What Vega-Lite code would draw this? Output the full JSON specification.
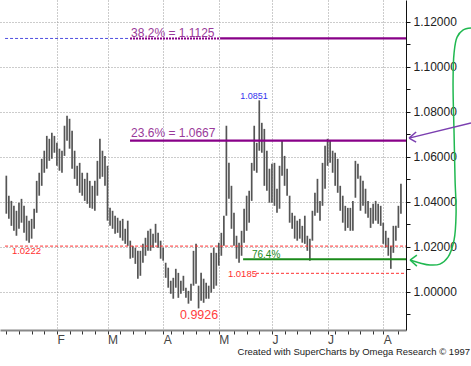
{
  "$schema": "https://vega.github.io/schema/vega-lite/v6.json",
  "width": 406,
  "height": 330,
  "autosize": "none",
  "padding": {"left": 0, "top": 0, "right": 65, "bottom": 36},
  "background": "white",
  "config": {"view": {"stroke": null}, "font": "Liberation Sans"},
  "title": {"text": "Created with SuperCharts by Omega Research © 1997", "orient": "bottom", "anchor": "end", "frame": "group", "dx": 64, "offset": 2, "fontSize": 9.5, "fontWeight": "normal", "color": "#222", "font": "Liberation Sans"},
  "resolve": {"axis": {"x": "independent", "y": "independent"}},
  "datasets": {
    "bars": [
      {"i":0,"h":1.0516,"l":1.0347},{"i":1,"h":1.0427,"l":1.0325},{"i":2,"h":1.0404,"l":1.0293},{"i":3,"h":1.0382,"l":1.0271},{"i":4,"h":1.0360,"l":1.0249},
      {"i":5,"h":1.0396,"l":1.0280},{"i":6,"h":1.0413,"l":1.0307},{"i":7,"h":1.0382,"l":1.0262},{"i":8,"h":1.0338,"l":1.0227},{"i":9,"h":1.0316,"l":1.0218},
      {"i":10,"h":1.0324,"l":1.0236},{"i":11,"h":1.0369,"l":1.0280},{"i":12,"h":1.0493,"l":1.0351},{"i":13,"h":1.0529,"l":1.0427},{"i":14,"h":1.0591,"l":1.0471},
      {"i":15,"h":1.0627,"l":1.0529},{"i":16,"h":1.0693,"l":1.0547},{"i":17,"h":1.0680,"l":1.0582},{"i":18,"h":1.0707,"l":1.0591},{"i":19,"h":1.0693,"l":1.0618},
      {"i":20,"h":1.0662,"l":1.0560},{"i":21,"h":1.0636,"l":1.0538},{"i":22,"h":1.0627,"l":1.0529},{"i":23,"h":1.0738,"l":1.0604},{"i":24,"h":1.0782,"l":1.0671},
      {"i":25,"h":1.0769,"l":1.0636},{"i":26,"h":1.0716,"l":1.0547},{"i":27,"h":1.0627,"l":1.0502},{"i":28,"h":1.0560,"l":1.0471},{"i":29,"h":1.0573,"l":1.0440},
      {"i":30,"h":1.0529,"l":1.0427},{"i":31,"h":1.0502,"l":1.0404},{"i":32,"h":1.0529,"l":1.0391},{"i":33,"h":1.0493,"l":1.0373},{"i":34,"h":1.0471,"l":1.0369},
      {"i":35,"h":1.0493,"l":1.0360},{"i":36,"h":1.0582,"l":1.0427},{"i":37,"h":1.0680,"l":1.0502},{"i":38,"h":1.0627,"l":1.0511},{"i":39,"h":1.0604,"l":1.0471},
      {"i":40,"h":1.0560,"l":1.0316},{"i":41,"h":1.0373,"l":1.0293},{"i":42,"h":1.0360,"l":1.0280},{"i":43,"h":1.0338,"l":1.0258},{"i":44,"h":1.0329,"l":1.0262},
      {"i":45,"h":1.0316,"l":1.0240},{"i":46,"h":1.0324,"l":1.0227},{"i":47,"h":1.0280,"l":1.0213},{"i":48,"h":1.0316,"l":1.0204},{"i":49,"h":1.0227,"l":1.0147},
      {"i":50,"h":1.0204,"l":1.0151},{"i":51,"h":1.0196,"l":1.0124},{"i":52,"h":1.0182,"l":1.0058},{"i":53,"h":1.0182,"l":1.0071},{"i":54,"h":1.0213,"l":1.0129},
      {"i":55,"h":1.0240,"l":1.0160},{"i":56,"h":1.0271,"l":1.0182},{"i":57,"h":1.0280,"l":1.0182},{"i":58,"h":1.0258,"l":1.0196},{"i":59,"h":1.0302,"l":1.0218},
      {"i":60,"h":1.0262,"l":1.0196},{"i":61,"h":1.0227,"l":1.0147},{"i":62,"h":1.0196,"l":1.0138},{"i":63,"h":1.0129,"l":1.0062},{"i":64,"h":1.0107,"l":1.0018},
      {"i":65,"h":1.0049,"l":0.9991},{"i":66,"h":1.0062,"l":0.9969},{"i":67,"h":1.0102,"l":1.0018},{"i":68,"h":1.0084,"l":0.9973},{"i":69,"h":1.0049,"l":0.9991},
      {"i":70,"h":1.0071,"l":1.0004},{"i":71,"h":1.0018,"l":0.9973},{"i":72,"h":1.0004,"l":0.9947},{"i":73,"h":1.0036,"l":0.9960},{"i":74,"h":1.0182,"l":1.0027},
      {"i":75,"h":1.0213,"l":1.0036},{"i":76,"h":1.0027,"l":0.9926},{"i":77,"h":1.0084,"l":0.9960},{"i":78,"h":1.0058,"l":0.9951},{"i":79,"h":1.0040,"l":0.9969},
      {"i":80,"h":1.0027,"l":0.9969},{"i":81,"h":1.0173,"l":0.9996},{"i":82,"h":1.0196,"l":1.0013},{"i":83,"h":1.0173,"l":1.0027},{"i":84,"h":1.0218,"l":1.0116},
      {"i":85,"h":1.0262,"l":1.0160},{"i":86,"h":1.0338,"l":1.0204},{"i":87,"h":1.0738,"l":1.0338},{"i":88,"h":1.0573,"l":1.0413},{"i":89,"h":1.0471,"l":1.0280},
      {"i":90,"h":1.0351,"l":1.0204},{"i":91,"h":1.0249,"l":1.0147},{"i":92,"h":1.0218,"l":1.0129},{"i":93,"h":1.0271,"l":1.0160},{"i":94,"h":1.0369,"l":1.0218},
      {"i":95,"h":1.0427,"l":1.0271},{"i":96,"h":1.0449,"l":1.0307},{"i":97,"h":1.0573,"l":1.0404},{"i":98,"h":1.0738,"l":1.0538},{"i":99,"h":1.0662,"l":1.0529},
      {"i":100,"h":1.0851,"l":1.0627},{"i":101,"h":1.0751,"l":1.0618},{"i":102,"h":1.0724,"l":1.0471},{"i":103,"h":1.0627,"l":1.0449},{"i":104,"h":1.0547,"l":1.0396},
      {"i":105,"h":1.0569,"l":1.0396},{"i":106,"h":1.0573,"l":1.0382},{"i":107,"h":1.0458,"l":1.0351},{"i":108,"h":1.0560,"l":1.0369},{"i":109,"h":1.0671,"l":1.0516},
      {"i":110,"h":1.0604,"l":1.0471},{"i":111,"h":1.0547,"l":1.0427},{"i":112,"h":1.0427,"l":1.0307},{"i":113,"h":1.0351,"l":1.0280},{"i":114,"h":1.0338,"l":1.0236},
      {"i":115,"h":1.0316,"l":1.0227},{"i":116,"h":1.0324,"l":1.0236},{"i":117,"h":1.0293,"l":1.0218},{"i":118,"h":1.0338,"l":1.0213},{"i":119,"h":1.0249,"l":1.0182},
      {"i":120,"h":1.0236,"l":1.0138},{"i":121,"h":1.0360,"l":1.0227},{"i":122,"h":1.0440,"l":1.0338},{"i":123,"h":1.0502,"l":1.0351},{"i":124,"h":1.0404,"l":1.0316},
      {"i":125,"h":1.0573,"l":1.0382},{"i":126,"h":1.0649,"l":1.0458},{"i":127,"h":1.0680,"l":1.0560},{"i":128,"h":1.0671,"l":1.0573},{"i":129,"h":1.0627,"l":1.0529},
      {"i":130,"h":1.0618,"l":1.0471},{"i":131,"h":1.0591,"l":1.0440},{"i":132,"h":1.0471,"l":1.0360},{"i":133,"h":1.0427,"l":1.0307},{"i":134,"h":1.0382,"l":1.0271},
      {"i":135,"h":1.0373,"l":1.0284},{"i":136,"h":1.0373,"l":1.0271},{"i":137,"h":1.0404,"l":1.0271},{"i":138,"h":1.0582,"l":1.0418},{"i":139,"h":1.0569,"l":1.0502},
      {"i":140,"h":1.0516,"l":1.0360},{"i":141,"h":1.0493,"l":1.0382},{"i":142,"h":1.0458,"l":1.0347},{"i":143,"h":1.0404,"l":1.0329},{"i":144,"h":1.0373,"l":1.0284},
      {"i":145,"h":1.0391,"l":1.0302},{"i":146,"h":1.0404,"l":1.0316},{"i":147,"h":1.0391,"l":1.0302},{"i":148,"h":1.0382,"l":1.0293},{"i":149,"h":1.0307,"l":1.0213},
      {"i":150,"h":1.0271,"l":1.0196},{"i":151,"h":1.0240,"l":1.0160},{"i":152,"h":1.0204,"l":1.0102},{"i":153,"h":1.0293,"l":1.0173},{"i":154,"h":1.0293,"l":1.0227},
      {"i":155,"h":1.0382,"l":1.0284},{"i":156,"h":1.0480,"l":1.0347}
    ],
    "hl": [
      {"id":"f382left","a":-0.5,"b":48.9,"v":1.1126},
      {"id":"f382dash","a":48.9,"b":84.5,"v":1.1126},
      {"id":"f382","a":84.5,"b":158,"v":1.1126},
      {"id":"f236","a":48.9,"b":158,"v":1.0672},
      {"id":"red1","a":-0.5,"b":158,"v":1.0203},
      {"id":"red2","a":98.7,"b":158,"v":1.0082},
      {"id":"green","a":93.6,"b":158,"v":1.0144}
    ],
    "tx": [
      {"id":"p","t":"38.2% = 1.1125","x":49.3,"y":1.1134},
      {"id":"p","t":"23.6% = 1.0667","x":49.3,"y":1.0688},
      {"id":"b","t":"1.0851","x":97.9,"y":1.0855},
      {"id":"rs","t":"1.0222","x":2.2,"y":1.0168},
      {"id":"rs","t":"1.0185","x":87.6,"y":1.0065},
      {"id":"g","t":"76.4%","x":97.1,"y":1.0148},
      {"id":"rl","t":"0.9926","x":76.2,"y":0.9879}
    ],
    "cv": [
      {"id":"g","k":0,"x":183.7,"y":1.1172},
      {"id":"g","k":1,"x":180.5,"y":1.1163},
      {"id":"g","k":2,"x":178.2,"y":1.1132},
      {"id":"g","k":3,"x":177.0,"y":1.1061},
      {"id":"g","k":4,"x":176.6,"y":1.0928},
      {"id":"g","k":5,"x":177.0,"y":1.0705},
      {"id":"g","k":6,"x":177.4,"y":1.0496},
      {"id":"g","k":7,"x":177.8,"y":1.0350},
      {"id":"g","k":8,"x":177.0,"y":1.0230},
      {"id":"g","k":9,"x":174.6,"y":1.0154},
      {"id":"g","k":10,"x":171.4,"y":1.0123},
      {"id":"g","k":11,"x":167.5,"y":1.0119},
      {"id":"g","k":12,"x":163.5,"y":1.0128},
      {"id":"g","k":13,"x":159.6,"y":1.0141}
    ],
    "seg": [
      {"id":"ga1","k":0,"x":162.3,"y":1.0163},{"id":"ga1","k":1,"x":159.6,"y":1.0141},
      {"id":"ga2","k":0,"x":162.3,"y":1.0114},{"id":"ga2","k":1,"x":159.6,"y":1.0141},
      {"id":"pa","k":0,"x":183.7,"y":1.0750},{"id":"pa","k":1,"x":159.2,"y":1.0683},
      {"id":"pb1","k":0,"x":162.0,"y":1.0710},{"id":"pb1","k":1,"x":159.2,"y":1.0683},
      {"id":"pb2","k":0,"x":162.0,"y":1.0665},{"id":"pb2","k":1,"x":159.2,"y":1.0683}
    ]
  },
  "layer": [
    {
      "data": {"name": "bars"},
      "mark": {"type": "rule", "color": "#555", "strokeWidth": 1.7},
      "encoding": {
        "x": {"field": "i", "type": "quantitative",
          "scale": {"domain": [-2.5, 158], "nice": false, "zero": false},
          "axis": {"title": null, "orient": "bottom",
            "values": [0,5,10,15,20,25,30,35,40,45,50,55,62,65,70,75,80,84,90,95,100,105,110,115,120,127,130,135,140,145,149,155],
            "labelExpr": "datum.value==20?'F':datum.value==40?'M':datum.value==62?'A':datum.value==84?'M':datum.value==105?'J':datum.value==127?'J':datum.value==149?'A':''",
            "labelAlign": "left", "labelBaseline": "top", "labelPadding": 0, "labelFontSize": 12, "labelFont": "Liberation Sans", "labelColor": "#444",
            "labelFlush": false, "labelOverlap": false,
            "domainColor": "#888", "domainWidth": 2,
            "tickColor": "#333", "tickSize": 4,
            "grid": true, "gridColor": "#999", "gridDash": [1, 2],
            "gridOpacity": {"condition": {"test": "indexof([20,40,62,84,105,127,149], datum.value) >= 0", "value": 1}, "value": 0}
          }
        },
        "y": {"field": "h", "type": "quantitative",
          "scale": {"domain": [0.983, 1.1297], "nice": false, "zero": false},
          "axis": {"title": null, "orient": "right",
            "values": [0.99,1.0,1.01,1.02,1.03,1.04,1.05,1.06,1.07,1.08,1.09,1.1,1.11,1.12],
            "format": ".5f",
            "labelExpr": "round(datum.value*100)%2==0 ? datum.label : ''",
            "labelFontSize": 12, "labelFont": "Liberation Sans", "labelColor": "#222", "labelPadding": 3, "labelOverlap": false,
            "domainColor": "#111", "tickColor": "#111", "tickSize": 4,
            "grid": true, "gridColor": "#999", "gridDash": [1, 2],
            "gridOpacity": {"condition": {"test": "round(datum.value*100)%2==0", "value": 1}, "value": 0}
          }
        },
        "y2": {"field": "l"}
      }
    },
    {
      "data": {"name": "hl"},
      "transform": [{"filter": "datum.id=='f382left'"}],
      "mark": {"type": "rule", "color": "#5050e0", "strokeWidth": 1, "strokeDash": [3, 2]},
      "encoding": {"x": {"field": "a", "type": "quantitative", "axis": null}, "x2": {"field": "b"}, "y": {"field": "v", "type": "quantitative", "axis": null}}
    },
    {
      "data": {"name": "hl"},
      "transform": [{"filter": "datum.id=='f382dash'"}],
      "mark": {"type": "rule", "color": "#880088", "strokeWidth": 2, "strokeDash": [2, 1]},
      "encoding": {"x": {"field": "a", "type": "quantitative", "axis": null}, "x2": {"field": "b"}, "y": {"field": "v", "type": "quantitative", "axis": null}}
    },
    {
      "data": {"name": "hl"},
      "transform": [{"filter": "datum.id=='f382' || datum.id=='f236'"}],
      "mark": {"type": "rule", "color": "#880088", "strokeWidth": 2.2},
      "encoding": {"x": {"field": "a", "type": "quantitative", "axis": null}, "x2": {"field": "b"}, "y": {"field": "v", "type": "quantitative", "axis": null}}
    },
    {
      "data": {"name": "hl"},
      "transform": [{"filter": "datum.id=='red1' || datum.id=='red2'"}],
      "mark": {"type": "rule", "color": "#ff3030", "strokeWidth": 1, "strokeDash": [3, 2]},
      "encoding": {"x": {"field": "a", "type": "quantitative", "axis": null}, "x2": {"field": "b"}, "y": {"field": "v", "type": "quantitative", "axis": null}}
    },
    {
      "data": {"name": "hl"},
      "transform": [{"filter": "datum.id=='green'"}],
      "mark": {"type": "rule", "color": "#1a8a1a", "strokeWidth": 2},
      "encoding": {"x": {"field": "a", "type": "quantitative", "axis": null}, "x2": {"field": "b"}, "y": {"field": "v", "type": "quantitative", "axis": null}}
    },
    {
      "data": {"name": "tx"},
      "transform": [{"filter": "datum.id=='p'"}],
      "mark": {"type": "text", "align": "left", "baseline": "alphabetic", "fontSize": 12, "font": "Liberation Sans", "color": "#9a3a9a"},
      "encoding": {"x": {"field": "x", "type": "quantitative", "axis": null}, "y": {"field": "y", "type": "quantitative", "axis": null}, "text": {"field": "t"}}
    },
    {
      "data": {"name": "tx"},
      "transform": [{"filter": "datum.id=='b'"}],
      "mark": {"type": "text", "align": "center", "baseline": "alphabetic", "fontSize": 9, "font": "Liberation Sans", "color": "#3333ee"},
      "encoding": {"x": {"field": "x", "type": "quantitative", "axis": null}, "y": {"field": "y", "type": "quantitative", "axis": null}, "text": {"field": "t"}}
    },
    {
      "data": {"name": "tx"},
      "transform": [{"filter": "datum.id=='rs'"}],
      "mark": {"type": "text", "align": "left", "baseline": "alphabetic", "fontSize": 9.5, "font": "Liberation Sans", "color": "#ff3030"},
      "encoding": {"x": {"field": "x", "type": "quantitative", "axis": null}, "y": {"field": "y", "type": "quantitative", "axis": null}, "text": {"field": "t"}}
    },
    {
      "data": {"name": "tx"},
      "transform": [{"filter": "datum.id=='g'"}],
      "mark": {"type": "text", "align": "left", "baseline": "alphabetic", "fontSize": 10, "font": "Liberation Sans", "color": "#1a8a1a"},
      "encoding": {"x": {"field": "x", "type": "quantitative", "axis": null}, "y": {"field": "y", "type": "quantitative", "axis": null}, "text": {"field": "t"}}
    },
    {
      "data": {"name": "tx"},
      "transform": [{"filter": "datum.id=='rl'"}],
      "mark": {"type": "text", "align": "center", "baseline": "alphabetic", "fontSize": 12.5, "font": "Liberation Sans", "color": "#ff4040"},
      "encoding": {"x": {"field": "x", "type": "quantitative", "axis": null}, "y": {"field": "y", "type": "quantitative", "axis": null}, "text": {"field": "t"}}
    },
    {
      "data": {"name": "cv"},
      "mark": {"type": "line", "color": "#20b850", "strokeWidth": 1.5, "interpolate": "catmull-rom", "clip": false},
      "encoding": {"x": {"field": "x", "type": "quantitative", "axis": null}, "y": {"field": "y", "type": "quantitative", "axis": null}, "order": {"field": "k"}}
    },
    {
      "data": {"name": "seg"},
      "transform": [{"filter": "indexof(['ga1','ga2'], datum.id) >= 0"}],
      "mark": {"type": "line", "color": "#20b850", "strokeWidth": 1.5, "clip": false},
      "encoding": {"x": {"field": "x", "type": "quantitative", "axis": null}, "y": {"field": "y", "type": "quantitative", "axis": null}, "detail": {"field": "id"}, "order": {"field": "k"}}
    },
    {
      "data": {"name": "seg"},
      "transform": [{"filter": "indexof(['pa','pb1','pb2'], datum.id) >= 0"}],
      "mark": {"type": "line", "color": "#7b3fb0", "strokeWidth": 1.5, "clip": false},
      "encoding": {"x": {"field": "x", "type": "quantitative", "axis": null}, "y": {"field": "y", "type": "quantitative", "axis": null}, "detail": {"field": "id"}, "order": {"field": "k"}}
    }
  ]
}
